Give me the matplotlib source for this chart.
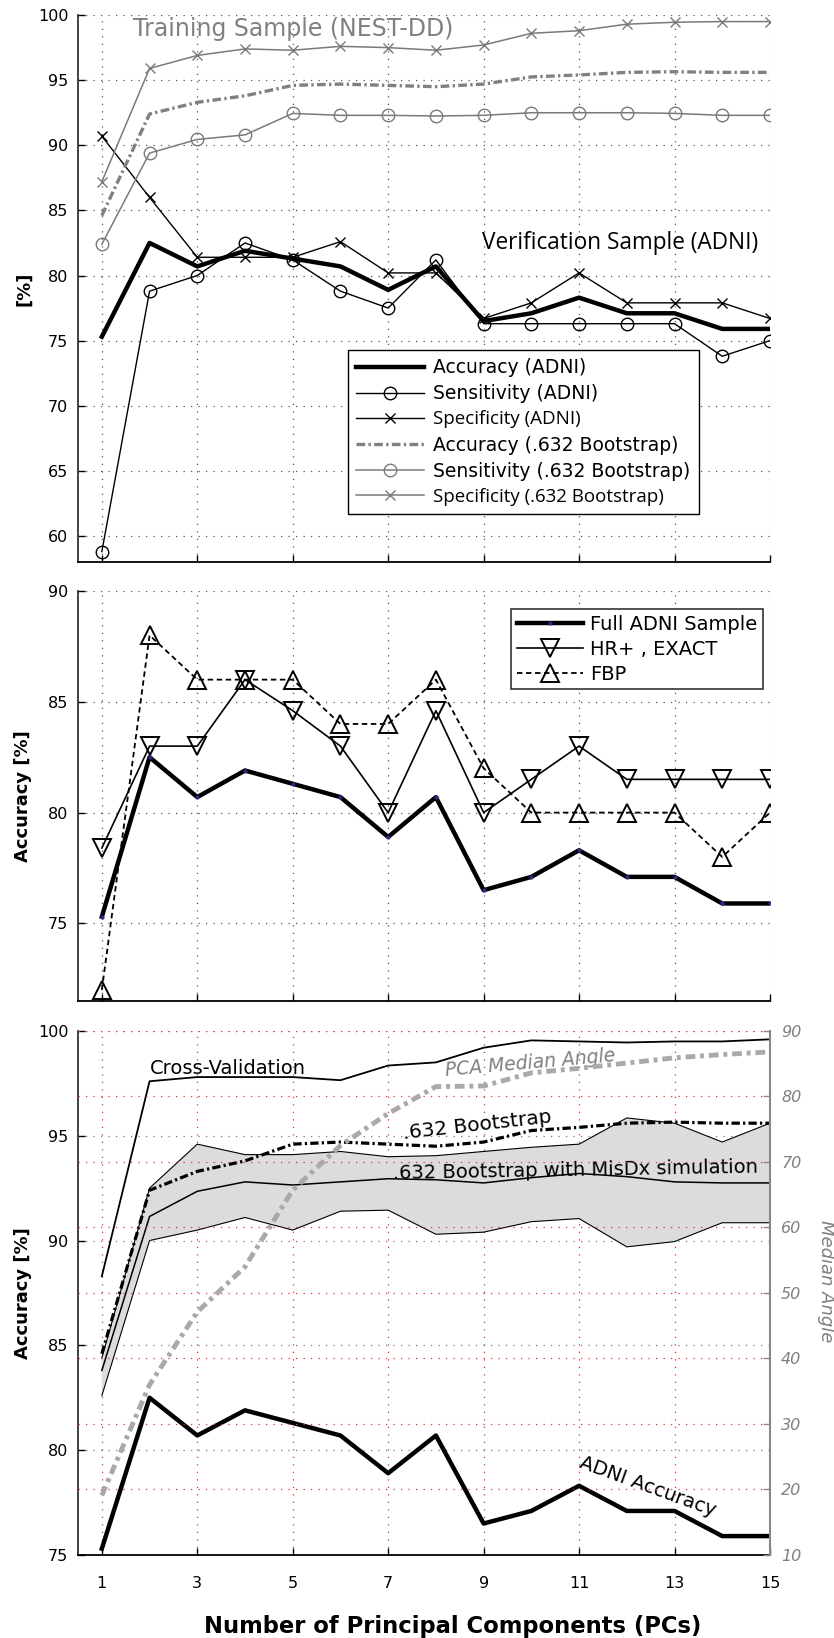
import numpy as np
import matplotlib.pyplot as plt

plt.rcParams['font.family'] = ['DejaVu Sans']

# number of principal components
pcs = np.arange(1, 16)

# panel 1: training sample (.632 bootstrap) and verification sample (ADNI)
train_spec = [87.2, 95.9, 96.9, 97.4, 97.3, 97.6, 97.5, 97.3, 97.7, 98.6, 98.8, 99.3, 99.45, 99.5, 99.5]
boot_acc = [84.6, 92.4, 93.3, 93.8, 94.6, 94.7, 94.6, 94.5, 94.7, 95.25, 95.4, 95.6, 95.65, 95.6, 95.6]
train_sens = [82.4, 89.4, 90.45, 90.8, 92.45, 92.3, 92.3, 92.25, 92.3, 92.5, 92.5, 92.5, 92.45, 92.3, 92.3]
adni_acc = [75.3, 82.5, 80.7, 81.9, 81.3, 80.7, 78.9, 80.7, 76.5, 77.1, 78.3, 77.1, 77.1, 75.9, 75.9]
adni_sens = [58.8, 78.8, 80.0, 82.5, 81.2, 78.8, 77.5, 81.2, 76.3, 76.3, 76.3, 76.3, 76.3, 73.8, 75.0]
adni_spec = [90.7, 86.0, 81.4, 81.4, 81.4, 82.6, 80.2, 80.2, 76.7, 77.9, 80.2, 77.9, 77.9, 77.9, 76.7]

# panel 2: reconstruction subsets
hr_exact = [78.4, 83.0, 83.0, 86.0, 84.6, 83.0, 80.0, 84.6, 80.0, 81.5, 83.0, 81.5, 81.5, 81.5, 81.5]
fbp = [72.0, 88.0, 86.0, 86.0, 86.0, 84.0, 84.0, 86.0, 82.0, 80.0, 80.0, 80.0, 80.0, 78.0, 80.0]

# panel 3: validation schemes and median angle
cv_acc = [88.3, 97.6, 97.8, 97.8, 97.8, 97.65, 98.35, 98.5, 99.2, 99.55, 99.5, 99.45, 99.5, 99.5, 99.6]
misdx_mean = [83.8, 91.15, 92.35, 92.8, 92.65, 92.8, 92.95, 92.9, 92.75, 93.0, 93.2, 93.05, 92.8, 92.75, 92.75]
misdx_hi = [84.4, 92.5, 94.6, 94.1, 94.1, 94.25, 94.0, 94.05, 94.25, 94.45, 94.6, 95.85, 95.6, 94.7, 95.6]
misdx_lo = [82.6, 90.0, 90.5, 91.1, 90.5, 91.4, 91.45, 90.3, 90.4, 90.9, 91.05, 89.7, 89.95, 90.85, 90.85]
median_angle = [19.1, 36.0, 47.1, 54.0, 65.7, 72.5, 77.4, 81.5, 81.6, 83.6, 84.3, 85.1, 85.9, 86.4, 86.8]

dot_grid = (0, (1, 5))
gray = '#7a7a7a'


def style(ax, ylim, yticks):
    for s in ['top', 'right']:
        ax.spines[s].set_visible(False)
    ax.spines['left'].set_color('#333333')
    ax.spines['left'].set_linewidth(1.3)
    ax.spines['bottom'].set_linewidth(1.3)
    ax.set_xlim(0.5, 15)
    ax.set_xticks(range(1, 16, 2))
    ax.set_ylim(*ylim)
    ax.set_yticks(yticks)
    ax.tick_params(direction='in', length=5, width=1, labelsize=11.5, pad=7)
    ax.set_axisbelow(True)


fig = plt.figure(figsize=(8.34, 16.38), dpi=100)
ax1 = fig.add_axes([0.0935, 0.6569, 0.8297, 0.3339])
ax2 = fig.add_axes([0.0935, 0.3889, 0.8297, 0.2503])
ax3 = fig.add_axes([0.0935, 0.0507, 0.8297, 0.3199])

# ---- panel 1
style(ax1, (58, 100), range(60, 101, 5))
ax1.grid(True, linestyle=dot_grid, linewidth=0.9, color='#555555')
ax1.set_xticklabels([])
ax1.plot(pcs, adni_acc, color='black', lw=3.2, label='Accuracy (ADNI)')
ax1.plot(pcs, adni_sens, color='black', lw=1, marker='o', ms=9, mfc='none', mew=1,
         label='Sensitivity (ADNI)')
ax1.plot(pcs, adni_spec, color='black', lw=1, marker='x', ms=7, mew=1,
         label='Specificity (ADNI)')
ax1.plot(pcs, boot_acc, color='#808080', lw=2.4, linestyle=(0, (2.6, 1, 0.7, 1)),
         label='Accuracy (.632 Bootstrap)')
ax1.plot(pcs, train_sens, color=gray, lw=1.1, marker='o', ms=9, mfc='none', mew=1,
         label='Sensitivity (.632 Bootstrap)')
ax1.plot(pcs, train_spec, color=gray, lw=1.1, marker='x', ms=7, mew=1,
         label='Specificity (.632 Bootstrap)')
ax1.text(1.65, 98.9, 'Training Sample (NEST-DD)', color='#808080', fontsize=17,
         ha='left', va='center')
ax1.text(8.97, 82.5, 'Verification Sample (ADNI)', family='Open Sans', fontsize=16.3,
         ha='left', va='center')
leg1 = ax1.legend(loc='upper right', bbox_to_anchor=(0.897, 0.388), borderaxespad=0,
                  fontsize=13.5, fancybox=False, framealpha=1, edgecolor='black',
                  handlelength=3.6, borderpad=0.45, labelspacing=0.38, handletextpad=0.5)
leg1.get_frame().set_linewidth(1)
for i in (2, 5):
    leg1.get_texts()[i].set_family('Open Sans')
ax1.set_ylabel('[%]', fontweight='bold', fontsize=13)
ax1.yaxis.set_label_coords(-0.065, 0.5)

# ---- panel 2
style(ax2, (71.5, 90), [75, 80, 85, 90])
ax2.grid(True, linestyle=dot_grid, linewidth=0.9, color='#555555')
ax2.set_xticklabels([])
ax2.plot(pcs, adni_acc, color='black', lw=3.2, marker='.', ms=4, mfc='#2a2a8a',
         mec='#2a2a8a', label='Full ADNI Sample')
ax2.plot(pcs, hr_exact, color='black', lw=1.2, marker='v', ms=13, mfc='none', mew=1.4,
         label='HR+ , EXACT')
ax2.plot(pcs, fbp, color='black', lw=1.3, linestyle=(0, (3, 2)), marker='^', ms=13,
         mfc='none', mew=1.4, label='FBP')
leg2 = ax2.legend(loc='upper right', bbox_to_anchor=(0.99, 0.956), borderaxespad=0,
                  fontsize=14, fancybox=False, framealpha=1, edgecolor='#333333',
                  handlelength=3.4, borderpad=0.3, labelspacing=0.3, handletextpad=0.35)
leg2.get_frame().set_linewidth(1.2)
ax2.set_ylabel('Accuracy [%]', fontweight='bold', fontsize=13)
ax2.yaxis.set_label_coords(-0.066, 0.5)

# ---- panel 3
style(ax3, (75, 100), range(75, 101, 5))
ax3.tick_params(axis='x', pad=15)
ax3.grid(True, axis='y', linestyle=dot_grid, linewidth=0.9, color='#777777')
ax3.grid(True, axis='x', linestyle=dot_grid, linewidth=0.9, color='#e03030')
ax3.fill_between(pcs, misdx_lo, misdx_hi, facecolor='#dcdcdc', edgecolor='none')
ax3.plot(pcs, misdx_hi, color='black', lw=0.8)
ax3.plot(pcs, misdx_lo, color='black', lw=0.8)
ax3.plot(pcs, misdx_mean, color='black', lw=1.1)
ax3.plot(pcs, cv_acc, color='black', lw=1.3)
ax3.plot(pcs, boot_acc, color='black', lw=2.3, linestyle=(0, (2.6, 1, 0.7, 1)))
ax3.plot(pcs, adni_acc, color='black', lw=3.2)
ax3.set_xticklabels([str(v) for v in range(1, 16, 2)])
ax3.set_xlabel('Number of Principal Components (PCs)', fontweight='bold', fontsize=16.3)
ax3.xaxis.set_label_coords(0.542, -0.114)
ax3.set_ylabel('Accuracy [%]', fontweight='bold', fontsize=13)
ax3.yaxis.set_label_coords(-0.066, 0.5)

ax3.text(2.0, 98.23, 'Cross-Validation', fontsize=14, ha='left', va='center')
ax3.text(8.86, 95.5, '.632 Bootstrap', fontsize=14.5, ha='center', va='center',
         rotation=6.4, rotation_mode='anchor')
ax3.text(10.92, 93.35, '.632 Bootstrap with MisDx simulation', fontsize=14,
         ha='center', va='center', rotation=1, rotation_mode='anchor')
ax3.text(9.97, 98.45, 'PCA Median Angle', fontsize=13.5, style='italic', color='#808080',
         ha='center', va='center', rotation=5, rotation_mode='anchor')
ax3.text(12.43, 78.25, 'ADNI Accuracy', fontsize=14, ha='center', va='center',
         rotation=-20, rotation_mode='anchor')

ax3r = ax3.twinx()
ax3r.set_ylim(10, 90)
ax3r.set_yticks(range(10, 91, 10))
ax3r.grid(True, axis='y', linestyle=dot_grid, linewidth=0.9, color='#e03030')
for s in ['top', 'left', 'bottom']:
    ax3r.spines[s].set_visible(False)
ax3r.spines['right'].set_color('#888888')
ax3r.spines['right'].set_linewidth(1.5)
ax3r.tick_params(direction='in', length=5, width=1, colors='#888888', labelsize=11.5,
                 pad=8)
for t in ax3r.get_yticklabels():
    t.set_style('italic')
    t.set_color('#808080')
ax3r.plot(pcs, median_angle, color='#a9a9a9', lw=3.5, linestyle=(0, (2, 1, 0.8, 1)))
fig.text(0.990, 0.218, 'Median Angle', rotation=270, style='italic', color='#808080',
         fontsize=13, ha='center', va='center')

fig.savefig('out.png', dpi=100)
